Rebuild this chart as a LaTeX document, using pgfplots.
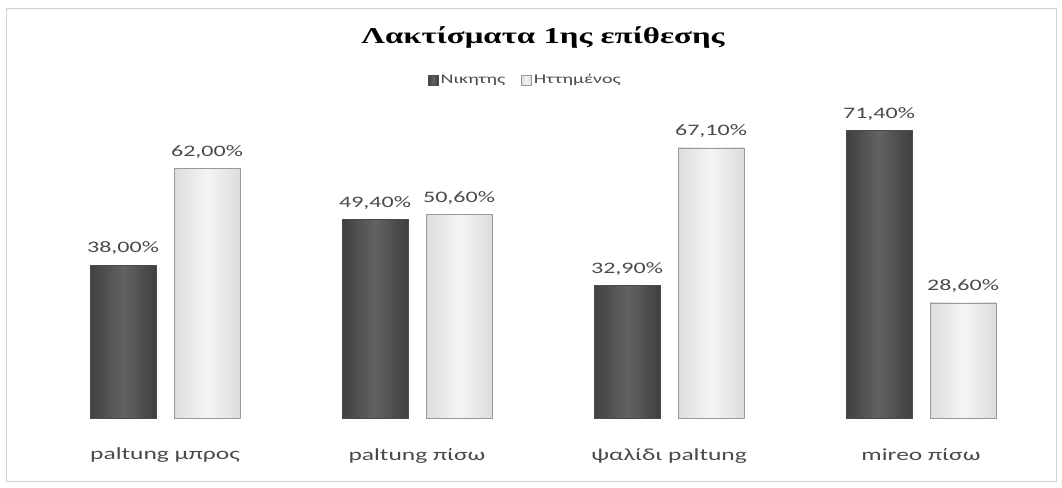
\documentclass[border=0pt]{standalone}
\usepackage{fontspec}
\setmainfont[FakeStretch=1.5]{Carlito}
\newfontfamily\titlefont[FakeStretch=1.45]{Liberation Serif}
\usepackage{pgfplots}
\pgfplotsset{compat=1.18}
\definecolor{dkedge}{HTML}{404040}
\definecolor{dkmid}{HTML}{626262}
\definecolor{ltedge}{HTML}{DCDCDC}
\definecolor{ltmid}{HTML}{F5F5F5}
\definecolor{txt}{HTML}{4A4A4A}
\pgfplotsset{
  dkbar/.style={ybar, bar width=49.5pt, bar shift=0pt, draw=black!70,
    left color=dkedge, right color=dkedge, middle color=dkmid},
  ltbar/.style={ybar, bar width=49.5pt, bar shift=0pt, draw=black!40,
    left color=ltedge, right color=ltedge, middle color=ltmid},
}
\begin{document}
\begin{tikzpicture}
\path[use as bounding box] (0,0) rectangle (796.5pt,365.25pt);
\draw[black!18, line width=0.6pt] (4.5pt,4.5pt) rectangle (792pt,359.25pt);
\begin{axis}[
  at={(29.25pt,51.75pt)}, anchor=south west,
  scale only axis, width=756pt, height=241.5pt,
  xmin=-0.5, xmax=3.5, ymin=0, ymax=80,
  axis lines=left, axis line style={draw=none},
  ytick=\empty,
  xtick={0,1,2,3},
  xticklabels={paltung μπρος, paltung πίσω, ψαλίδι paltung, mireo πίσω},
  major tick length=0pt,
  xticklabel style={font=\fontsize{12.75}{15}\selectfont, text=txt, yshift=-19pt},
  clip=false,
  title={\titlefont\bfseries Λακτίσματα 1ης επίθεσης},
  title style={at={(0.5,1.158)}, anchor=center, font=\fontsize{17}{20}\selectfont},
  legend style={at={(0.483,1.049)}, anchor=center, draw=none, fill=none,
    legend columns=2, font=\fontsize{10}{12}\selectfont, text=txt,
    /tikz/every even column/.append style={column sep=10pt}},
  legend image code/.code={\draw[#1] (0pt,-3.5pt) rectangle (7pt,3.5pt);},
  nodes near coords={\pgfmathprintnumber[fixed,fixed zerofill,precision=2,use comma,assume math mode=true]{\pgfplotspointmeta}\%},
  every node near coord/.append style={font=\fontsize{12}{14}\selectfont, text=txt, yshift=4pt},
]
% Νικητης (dark), Ηττημένος (light); bars at group index -/+ 1/6
\addplot[dkbar] coordinates {(-0.16667,38.0)};
\addlegendentry{Νικητης}
\addplot[ltbar] coordinates {(0.16667,62.0)};
\addlegendentry{Ηττημένος}
\addplot[dkbar, forget plot] coordinates {(0.83333,49.4)};
\addplot[ltbar, forget plot] coordinates {(1.16667,50.6)};
\addplot[dkbar, forget plot] coordinates {(1.83333,32.9)};
\addplot[ltbar, forget plot] coordinates {(2.16667,67.1)};
\addplot[dkbar, forget plot] coordinates {(2.83333,71.4)};
\addplot[ltbar, forget plot] coordinates {(3.16667,28.6)};
\end{axis}
\end{tikzpicture}
\end{document}
